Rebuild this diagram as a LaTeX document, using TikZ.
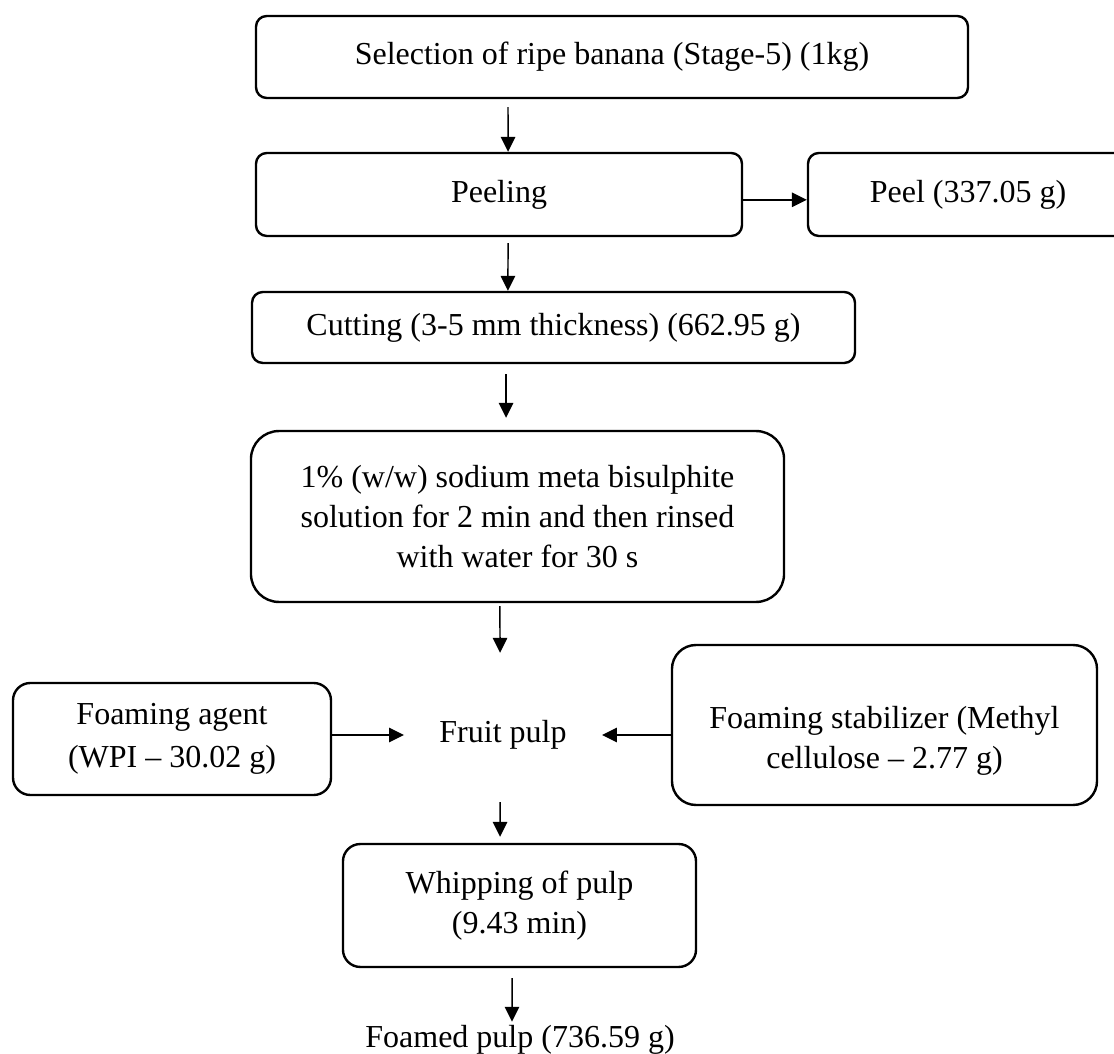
\documentclass[tikz,border=0pt]{standalone}
\usepackage{fontspec}
\setmainfont{Liberation Serif}
\usetikzlibrary{arrows.meta}

\begin{document}
\begin{tikzpicture}[x=.375pt, y=-.375pt, line width=.55pt,
        font=\fontsize{12}{15}\selectfont,
        proc/.style={draw, line width=.9pt, align=center, inner sep=0pt, rounded corners=#1},
        arr/.style={-{Triangle[length=5.6pt, width=5.4pt]}}]
            \useasboundingbox (0,0) rectangle (1114,1054);
            \clip (0,0) rectangle (1114,1054);

            % Kaesten.
            \node[proc=4pt, minimum width=267pt, minimum height=30.75pt] (sel) at (612,57) {Selection of ripe banana (Stage-5) (1kg)};
            \node[proc=4pt, minimum width=182.25pt, minimum height=31.1pt] (peeling) at (499,194.5) {Peeling};
            \node[proc=4pt, minimum width=120pt, minimum height=31.1pt] (peel) at (968,194.5) {Peel (337.05 g)};
            \node[proc=4pt, minimum width=226.1pt, minimum height=26.6pt] (cut) at (553.5,327.5) {Cutting (3-5 mm thickness) (662.95 g)};
            \node[proc=10.5pt, minimum width=199.9pt, minimum height=64.1pt] (sms) at (517.5,516.5) {1\% (w/w) sodium meta bisulphite\\ solution for 2 min and then rinsed\\ with water for 30 s};
            \node[inner xsep=13pt] (pulp) at (503,735) {Fruit pulp};
            \node[proc=6.5pt, minimum width=119.25pt, minimum height=42pt] (agent) at (172,739) {Foaming agent\\[1pt] (WPI – 30.02 g)};
            \node[proc=9pt, minimum width=159.4pt, minimum height=60pt] (stab) at (884.5,725) {\rule{0pt}{20pt}Foaming stabilizer (Methyl\\ cellulose – 2.77 g)};
            \node[proc=6.5pt, minimum width=132.4pt, minimum height=46.1pt] (whip) at (519.5,905.5) {Whipping of pulp\\ (9.43 min)};
            \node (foamed) at (520,1040) {Foamed pulp (736.59 g)};

            % Pfeile.
            \draw[arr] ([xshift=-39pt, yshift=-3pt]sel.south) -- ([xshift=3.4pt]peeling.north);
            \draw[arr] ([yshift=-2pt]peeling.east) -- ([yshift=-2pt]peel.west);
            \draw[arr] ([xshift=3.4pt, yshift=-2.25pt]peeling.south) -- ([xshift=-17.1pt]cut.north);
            \draw[arr] ([xshift=-17.8pt, yshift=-3.75pt]cut.south) -- ([xshift=-4.3pt, yshift=4.5pt]sms.north);
            \draw[arr] ([xshift=-6.6pt, yshift=-1.1pt]sms.south) -- ([xshift=-1.1pt, yshift=21.75pt]pulp.north);
            \draw[arr] ([yshift=1.5pt]agent.east) -- (pulp.west);
            \draw[arr] ([yshift=-3.75pt]stab.west) -- (pulp.east);
            \draw[arr] ([xshift=-1.1pt, yshift=-16.1pt]pulp.south) -- ([xshift=-7.3pt, yshift=2.25pt]whip.north);
            \draw[arr] ([xshift=-2.8pt, yshift=-3.75pt]whip.south) -- ([xshift=-3pt, yshift=-2.2pt]foamed.north);
        \end{tikzpicture}
\end{document}
